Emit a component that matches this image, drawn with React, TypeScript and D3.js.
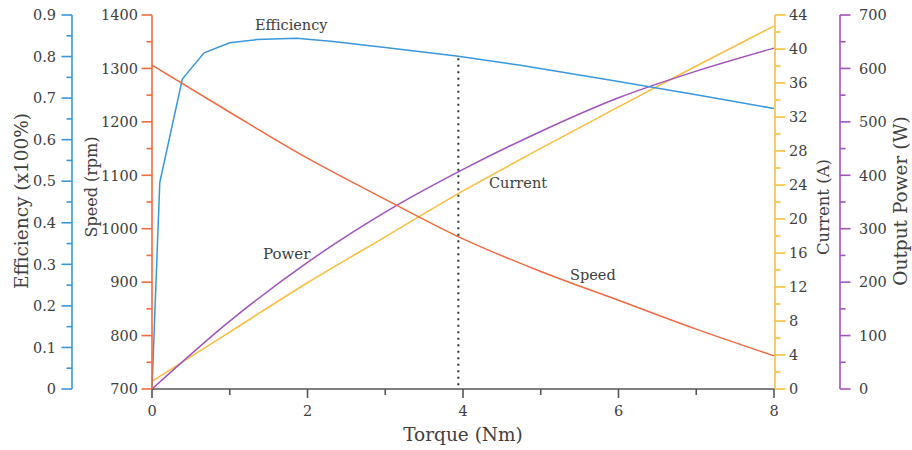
import React from 'react';
import * as d3 from 'd3';

// ---- data ----
const effTorque = [0, 0.1, 0.39, 0.67, 1.0, 1.35, 1.86, 2.33, 3.0, 3.94, 4.74, 6.0, 7.0, 8.0];
const efficiency = [0, 0.497, 0.746, 0.809, 0.833, 0.841, 0.844, 0.836, 0.822, 0.801, 0.779, 0.74, 0.708, 0.675];
const torque = [0, 1, 2, 3, 4, 5, 6, 7, 8];
const speed = [1306, 1218, 1132, 1055, 981, 920, 866, 812, 762];
const current = [0.9, 6.7, 12.5, 17.9, 23.3, 28.3, 33.2, 38.0, 42.7];
const power = [0, 127, 237, 331, 411, 482, 545, 595, 638];
const markerTorque = 3.94;
const markerEff = 0.801;

const torqueTicks = [0, 2, 4, 6, 8];
const effTicks = [0, 0.1, 0.2, 0.3, 0.4, 0.5, 0.6, 0.7, 0.8, 0.9];
const effTickLabels = ['0', '0.1', '0.2', '0.3', '0.4', '0.5', '0.6', '0.7', '0.8', '0.9'];
const speedTicks = [700, 800, 900, 1000, 1100, 1200, 1300, 1400];
const currentTicks = [0, 4, 8, 12, 16, 20, 24, 28, 32, 36, 40, 44];
const powerTicks = [0, 100, 200, 300, 400, 500, 600, 700];

const C_EFF = '#3a97dc';
const C_SPD = '#f26a3f';
const C_CUR = '#fbbd3c';
const C_PWR = '#a152bd';
const TXT = '#404040';
const FONT = "'DejaVu Serif', serif";

const W = 912, H = 450;
const X0 = 152, X1 = 774, YB = 389, YT = 15;
const AX_EFF = 72, AX_CUR = 775, AX_PWR = 840;

export default function App() {
  const x = d3.scaleLinear().domain([0, 8]).range([X0, X1]);
  const yE = d3.scaleLinear().domain([0, 0.9]).range([YB, YT]);
  const yS = d3.scaleLinear().domain([700, 1400]).range([YB, YT]);
  const yC = d3.scaleLinear().domain([0, 44]).range([YB, YT]);
  const yP = d3.scaleLinear().domain([0, 700]).range([YB, YT]);

  const effLine = d3.line<number>().x((_, i) => x(effTorque[i])).y(d => yE(d)).curve(d3.curveLinear);
  const mk = (sc: d3.ScaleLinear<number, number>) =>
    d3.line<number>().x((_, i) => x(torque[i])).y(d => sc(d)).curve(d3.curveMonotoneX);

  const vAxis = (
    ax: number, sc: d3.ScaleLinear<number, number>, ticks: number[], labels: string[],
    minorStep: number, color: string, side: 'left' | 'right', labelX: number, key: string
  ) => {
    const dom = sc.domain();
    const minors: number[] = [];
    for (let v = dom[0] + minorStep; v < dom[1]; v += minorStep * 2) minors.push(v);
    const dir = side === 'left' ? -1 : 1;
    return (
      <g key={key}>
        <line x1={ax} x2={ax} y1={sc(dom[0])} y2={sc(dom[1])} stroke={color} strokeWidth={1.6} />
        {ticks.map(t => (
          <line key={'M' + t} x1={ax} x2={ax + dir * 10.5} y1={sc(t)} y2={sc(t)} stroke={color} strokeWidth={1.6} />
        ))}
        {minors.map(t => (
          <line key={'m' + t} x1={ax} x2={ax + dir * 5.5} y1={sc(t)} y2={sc(t)} stroke={color} strokeWidth={1.6} />
        ))}
        {ticks.map((t, i) => (
          <text key={'L' + t} x={labelX} y={sc(t)} dy="0.36em" fontSize={14.5} fill={TXT}
            textAnchor={side === 'left' ? 'end' : 'start'}>{labels[i]}</text>
        ))}
      </g>
    );
  };

  const xMinor = [1, 3, 5, 7];

  return (
    <svg width={W} height={H} style={{ position: 'absolute', left: 0, top: 0, background: '#fff' }}
      fontFamily={FONT}>
      {/* curves */}
      <path d={mk(yC)(current) || ''} fill="none" stroke={C_CUR} strokeWidth={1.5} />
      <path d={mk(yP)(power) || ''} fill="none" stroke={C_PWR} strokeWidth={1.5} />
      <path d={mk(yS)(speed) || ''} fill="none" stroke={C_SPD} strokeWidth={1.5} />
      <path d={effLine(efficiency) || ''} fill="none" stroke={C_EFF} strokeWidth={1.5} />

      {/* dotted marker */}
      <line x1={x(markerTorque)} x2={x(markerTorque)} y1={yE(markerEff) + 2} y2={YB}
        stroke="#333" strokeWidth={2} strokeDasharray="2,4.5" />

      {/* x axis */}
      <line x1={X0} x2={X1} y1={YB} y2={YB} stroke="#555" strokeWidth={1.6} />
      {torqueTicks.map(t => (
        <line key={'xt' + t} x1={x(t)} x2={x(t)} y1={YB} y2={YB + 9} stroke="#555" strokeWidth={1.6} />
      ))}
      {xMinor.map(t => (
        <line key={'xm' + t} x1={x(t)} x2={x(t)} y1={YB} y2={YB + 6} stroke="#555" strokeWidth={1.6} />
      ))}
      {torqueTicks.map(t => (
        <text key={'xl' + t} x={x(t)} y={416} textAnchor="middle" fontSize={14.5} fill={TXT}>{t}</text>
      ))}
      <text x={(X0 + X1) / 2} y={441} textAnchor="middle" fontSize={18.5} fill={TXT}>Torque (Nm)</text>

      {/* vertical axes */}
      {vAxis(AX_EFF, yE, effTicks, effTickLabels, 0.05, C_EFF, 'left', 56, 'eff')}
      {vAxis(X0, yS, speedTicks, speedTicks.map(String), 50, C_SPD, 'left', 138, 'spd')}
      {vAxis(AX_CUR, yC, currentTicks, currentTicks.map(String), 2, C_CUR, 'right', 789, 'cur')}
      {vAxis(AX_PWR, yP, powerTicks, powerTicks.map(String), 50, C_PWR, 'right', 859, 'pwr')}

      {/* axis titles */}
      <text transform="translate(28,201) rotate(-90)" textAnchor="middle" fontSize={18.5} fill={TXT}>Efficiency (x100%)</text>
      <text transform="translate(97,187) rotate(-90)" textAnchor="middle" fontSize={16} fill={TXT}>Speed (rpm)</text>
      <text transform="translate(829,207) rotate(-90)" textAnchor="middle" fontSize={16.5} fill={TXT}>Current (A)</text>
      <text transform="translate(907,201) rotate(-90)" textAnchor="middle" fontSize={18.5} fill={TXT}>Output Power (W)</text>

      {/* series labels */}
      <text x={255} y={30} fontSize={14.5} fill={TXT}>Efficiency</text>
      <text x={263} y={259} fontSize={15} fill={TXT}>Power</text>
      <text x={489} y={188} fontSize={14.5} fill={TXT}>Current</text>
      <text x={570} y={280} fontSize={14.5} fill={TXT}>Speed</text>
    </svg>
  );
}
